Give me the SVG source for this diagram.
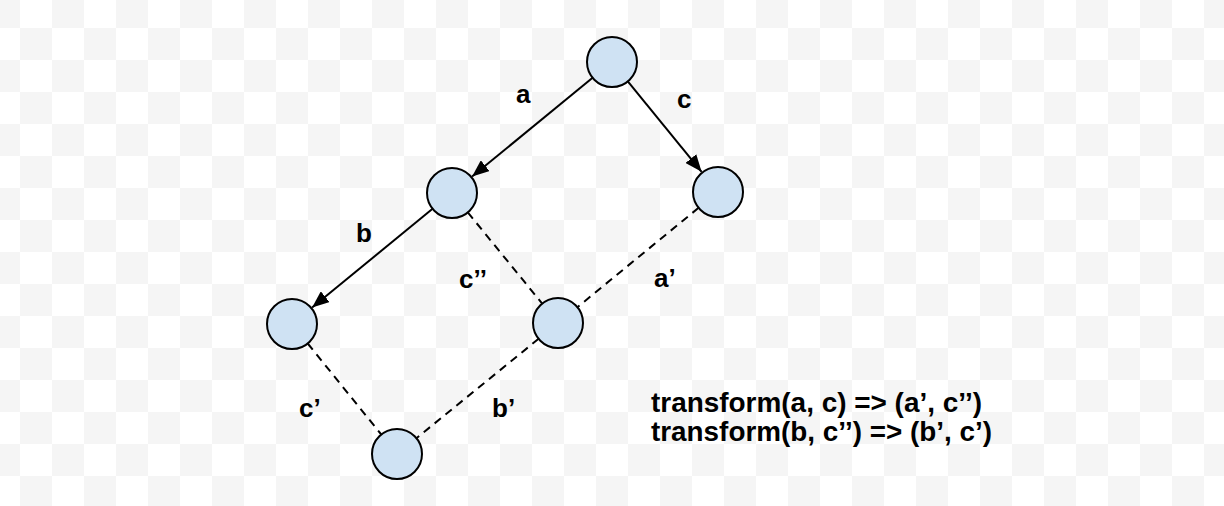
<svg xmlns="http://www.w3.org/2000/svg" width="1224" height="506" viewBox="0 0 1224 506">
  <defs>
    <pattern id="checker" patternUnits="userSpaceOnUse" x="20" y="28" width="64" height="64">
      <rect x="0" y="0" width="64" height="64" fill="#ffffff"/>
      <rect x="0" y="0" width="32" height="32" fill="#f5f5f5"/>
      <rect x="32" y="32" width="32" height="32" fill="#f5f5f5"/>
    </pattern>
    <marker id="arrow" markerUnits="userSpaceOnUse" markerWidth="17" markerHeight="14" refX="17" refY="7" orient="auto">
      <path d="M0,0 L17,7 L0,14 z" fill="#000"/>
    </marker>
    <style>
      .node { fill: #cfe2f3; stroke: #000; stroke-width: 2; }
      .edge { stroke: #000; stroke-width: 2; fill: none; }
      .solid { marker-end: url(#arrow); }
      .dashed { stroke-dasharray: 8 6; }
      .label { font-family: "Liberation Sans", Arial, sans-serif; font-weight: bold; font-size: 26px; fill: #000; }
      .note { font-family: "Liberation Sans", Arial, sans-serif; font-weight: bold; font-size: 27px; fill: #000; }
    </style>
  </defs>
  <rect x="0" y="0" width="1224" height="506" fill="url(#checker)"/>

  <g id="connectors">
    <line id="edge-a" class="edge solid" x1="592.6" y1="77.8" x2="472.1" y2="176.5"/>
    <line id="edge-c" class="edge solid" x1="627.8" y1="81.4" x2="701.6" y2="171.8"/>
    <line id="edge-b" class="edge solid" x1="432.6" y1="208.8" x2="312.1" y2="307.5"/>
    <line id="edge-c2" class="edge dashed" x1="467.8" y1="212.4" x2="542.2" y2="303.6"/>
    <line id="edge-a1" class="edge dashed" x1="698.6" y1="207.8" x2="577.4" y2="307.2"/>
    <line id="edge-c1" class="edge dashed" x1="307.7" y1="343.5" x2="381.3" y2="434.5"/>
    <line id="edge-b1" class="edge dashed" x1="538.6" y1="338.8" x2="416.4" y2="438.2"/>
  </g>

  <g id="node-top"><circle class="node" cx="612" cy="62" r="25"/></g>
  <g id="node-left1"><circle class="node" cx="452" cy="193" r="25"/></g>
  <g id="node-right1"><circle class="node" cx="718" cy="192" r="25"/></g>
  <g id="node-left2"><circle class="node" cx="292" cy="324" r="25"/></g>
  <g id="node-mid"><circle class="node" cx="558" cy="323" r="25"/></g>
  <g id="node-bottom"><circle class="node" cx="397" cy="454" r="25"/></g>

  <g id="labels">
    <text class="label" x="516" y="103">a</text>
    <text class="label" x="677" y="108">c</text>
    <text class="label" x="356" y="242">b</text>
    <text class="label" x="459" y="288">c’’</text>
    <text class="label" x="654" y="287">a’</text>
    <text class="label" x="299" y="417">c’</text>
    <text class="label" x="492" y="417">b’</text>
  </g>

  <g id="note">
    <text class="note" x="651" y="412" textLength="331" lengthAdjust="spacingAndGlyphs">transform(a, c) =&gt; (a’, c’’)</text>
    <text class="note" x="651" y="441" textLength="341" lengthAdjust="spacingAndGlyphs">transform(b, c’’) =&gt; (b’, c’)</text>
  </g>
</svg>
